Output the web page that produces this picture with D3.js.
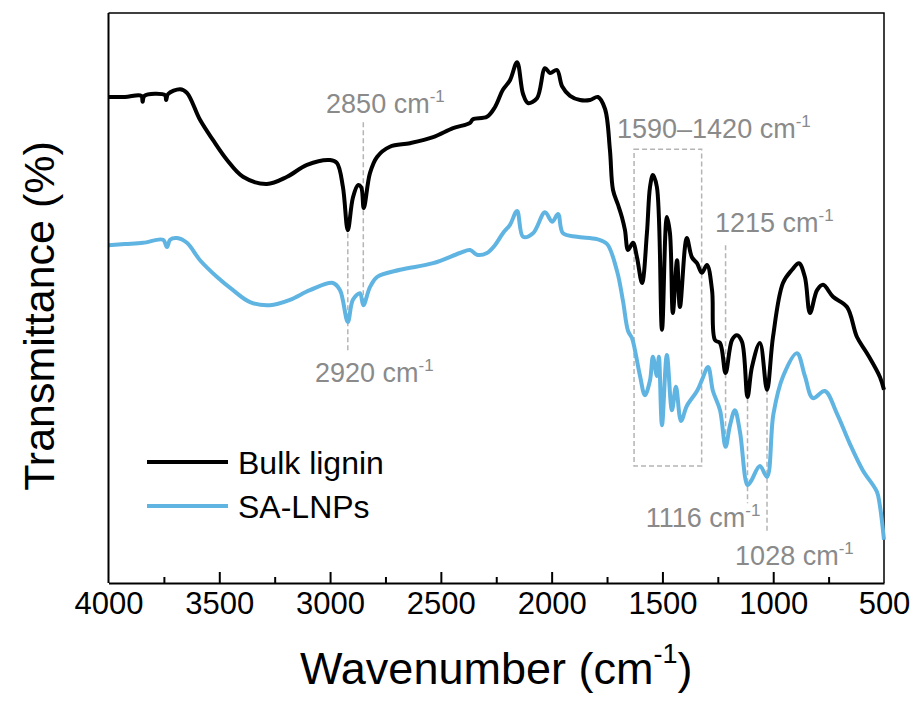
<!DOCTYPE html>
<html>
<head>
<meta charset="utf-8">
<script src="https://cdn.jsdelivr.net/npm/d3@7"></script>
<style>
  body { margin: 0; background: #fff; }
  text { font-family: "Liberation Sans", Arial, sans-serif; }
</style>
</head>
<body>
<script>
// FTIR spectra: [wavenumber (cm-1), transmittance (a.u.)]
var bulkLignin = [
  [4000, 81.0], [3926, 81.0], [3852, 81.2], [3846, 80.2], [3838, 81.2], [3745, 81.3],
  [3740, 80.5], [3731, 81.5], [3677, 82.3], [3646, 81.7], [3587, 77.2], [3528, 73.8],
  [3465, 70.5], [3393, 67.7], [3285, 66.5], [3194, 67.7], [3104, 69.7], [3000, 70.5],
  [2969, 70.0], [2942, 66.0], [2920, 58.8], [2897, 64.2], [2874, 66.3], [2860, 66.0],
  [2848, 62.5], [2820, 68.3], [2788, 71.0], [2730, 72.7], [2639, 73.3], [2535, 74.3],
  [2445, 75.8], [2368, 76.7], [2355, 77.3], [2292, 77.7], [2256, 79.3], [2220, 82.2],
  [2188, 83.8], [2156, 86.8], [2129, 81.5], [2107, 80.0], [2066, 80.8], [2030, 85.8],
  [2007, 85.0], [1976, 85.5], [1953, 82.8], [1917, 81.2], [1872, 80.5], [1827, 80.5],
  [1791, 81.0], [1759, 79.0], [1737, 72.2], [1723, 65.5], [1700, 63.0], [1683, 61.0],
  [1669, 58.8], [1655, 55.5], [1633, 56.7], [1615, 54.3], [1592, 50.0], [1570, 58.3],
  [1556, 66.0], [1543, 68.0], [1525, 66.0], [1502, 42.2], [1480, 61.0], [1466, 58.3],
  [1453, 45.0], [1434, 53.8], [1421, 46.0], [1390, 57.5], [1367, 54.3], [1344, 53.3],
  [1322, 51.7], [1299, 53.0], [1276, 48.8], [1263, 40.5], [1240, 40.0], [1215, 35.0],
  [1186, 40.5], [1164, 41.3], [1141, 40.2], [1116, 31.0], [1096, 36.0], [1060, 40.0],
  [1028, 32.2], [1001, 41.0], [956, 50.0], [915, 52.2], [884, 53.3], [857, 51.0],
  [834, 45.0], [802, 48.8], [775, 49.7], [730, 47.7], [667, 46.0], [622, 41.0],
  [577, 38.3], [518, 34.3], [500, 32.2]
];

var saLNPs = [
  [4000, 56.3], [3926, 56.5], [3844, 56.7], [3754, 57.2], [3736, 56.0], [3722, 57.2],
  [3691, 57.5], [3646, 56.7], [3587, 53.8], [3510, 51.0], [3438, 48.8], [3361, 46.8],
  [3271, 46.3], [3181, 47.2], [3091, 48.8], [2987, 50.0], [2955, 48.8], [2920, 43.5],
  [2897, 47.2], [2865, 48.3], [2850, 46.3], [2820, 49.3], [2788, 51.0], [2684, 52.2],
  [2535, 53.3], [2414, 55.0], [2368, 55.5], [2337, 54.7], [2292, 55.0], [2256, 56.3],
  [2220, 58.3], [2188, 59.7], [2156, 62.0], [2129, 57.7], [2084, 58.3], [2030, 61.8],
  [1998, 60.2], [1971, 61.5], [1949, 58.3], [1886, 57.7], [1795, 57.3], [1750, 56.5],
  [1705, 52.0], [1678, 47.0], [1655, 42.0], [1637, 40.8], [1624, 38.8], [1601, 34.5],
  [1579, 31.3], [1556, 33.8], [1543, 37.7], [1525, 34.5], [1516, 37.7], [1502, 26.3],
  [1480, 38.0], [1457, 28.8], [1439, 32.7], [1416, 27.0], [1390, 29.5], [1344, 32.0],
  [1322, 33.8], [1294, 36.0], [1272, 32.0], [1240, 28.8], [1215, 22.7], [1195, 26.3],
  [1173, 28.8], [1150, 25.2], [1116, 16.3], [1100, 17.0], [1060, 19.5], [1028, 17.7],
  [999, 28.2], [955, 34.5], [893, 38.3], [857, 34.5], [821, 30.8], [767, 32.0],
  [712, 28.2], [654, 23.2], [596, 18.8], [532, 15.2], [519, 13.0], [500, 7.2]
];

var seriesNames = ["Bulk lignin", "SA-LNPs"];
var seriesColors = ["#000000", "#5fb4e2"];

var xTicks = [4000, 3500, 3000, 2500, 2000, 1500, 1000, 500];
var xMinorTicks = [3750, 3250, 2750, 2250, 1750, 1250, 750];

// marked bands: wavenumber, top and bottom of the dashed guide (a.u.)
var peakLines = [
  { wn: 2920, top: 58.3, bottom: 38.8 },
  { wn: 2850, top: 76.8, bottom: 46.3 },
  { wn: 1215, top: 56.3, bottom: 23.5 },
  { wn: 1116, top: 30.8, bottom: 13.3 },
  { wn: 1028, top: 32.2, bottom: 8.2 }
];
var peakLabels = [
  { text: "2850 cm", wn: 3018, t: 78.3 },
  { text: "2920 cm", wn: 3068, t: 33.5 },
  { text: "1590\u20131420 cm", wn: 1705, t: 74.2 },
  { text: "1215 cm", wn: 1263, t: 58.5 },
  { text: "1116 cm", wn: 1575, t: 9.3 },
  { text: "1028 cm", wn: 1172, t: 3.0 }
];
var bandBox = { wnFrom: 1628, wnTo: 1323, top: 72.3, bottom: 19.5 };

var width = 914, height = 707;
var margin = { top: 13, right: 30, bottom: 124, left: 108.5 };

var svg = d3.select("body")
    .append("svg")
    .attr("width", width)
    .attr("height", height);

var x = d3.scaleLinear()
    .domain([4000, 500])
    .range([margin.left, width - margin.right]);

var y = d3.scaleLinear()
    .domain([0, 95])
    .range([height - margin.bottom, margin.top]);

var gray = "#8a8a8a";

// frame top / right
svg.append("path")
    .attr("d", "M" + x(4000) + "," + y(95) + "H" + x(500) + "V" + y(0))
    .attr("fill", "none")
    .attr("stroke", "#000")
    .attr("stroke-width", 1.5);

// dashed guides
svg.append("g")
    .selectAll("line")
    .data(peakLines)
    .enter()
    .append("line")
    .attr("x1", function (d) { return x(d.wn); })
    .attr("x2", function (d) { return x(d.wn); })
    .attr("y1", function (d) { return y(d.top); })
    .attr("y2", function (d) { return y(d.bottom); })
    .attr("stroke", "#b4b4b4")
    .attr("stroke-width", 1.5)
    .attr("stroke-dasharray", "5,3");

svg.append("rect")
    .attr("x", x(bandBox.wnFrom))
    .attr("y", y(bandBox.top))
    .attr("width", x(bandBox.wnTo) - x(bandBox.wnFrom))
    .attr("height", y(bandBox.bottom) - y(bandBox.top))
    .attr("fill", "none")
    .attr("stroke", "#b4b4b4")
    .attr("stroke-width", 1.5)
    .attr("stroke-dasharray", "5,3");

// spectra
var line = d3.line()
    .x(function (d) { return x(d[0]); })
    .y(function (d) { return y(d[1]); })
    .curve(d3.curveCatmullRom.alpha(0.5));

[bulkLignin, saLNPs].forEach(function (data, i) {
    svg.append("path")
        .datum(data)
        .attr("fill", "none")
        .attr("stroke", seriesColors[i])
        .attr("stroke-width", 4)
        .attr("stroke-linejoin", "round")
        .attr("d", line);
});

// peak labels
var labels = svg.append("g")
    .selectAll("text")
    .data(peakLabels)
    .enter()
    .append("text")
    .attr("x", function (d) { return x(d.wn); })
    .attr("y", function (d) { return y(d.t); })
    .attr("fill", gray)
    .style("font-size", "27px");
labels.append("tspan").text(function (d) { return d.text; });
labels.append("tspan")
    .attr("dy", -11)
    .style("font-size", "17px")
    .text("-1");

// x axis
svg.append("g")
    .attr("transform", "translate(0," + y(0) + ")")
    .call(d3.axisBottom(x)
        .tickValues(xMinorTicks)
        .tickSize(-6)
        .tickFormat(""))
    .call(function (g) { g.select(".domain").remove(); })
    .selectAll("line")
    .attr("stroke-width", 2);

var xAxis = svg.append("g")
    .attr("transform", "translate(0," + y(0) + ")")
    .call(d3.axisBottom(x)
        .tickValues(xTicks)
        .tickFormat(d3.format("d"))
        .tickSizeInner(-11)
        .tickSizeOuter(0)
        .tickPadding(9));
xAxis.select(".domain").attr("stroke-width", 2);
xAxis.selectAll(".tick line").attr("stroke-width", 2);
xAxis.selectAll(".tick text")
    .style("font-size", "31px")
    .style("font-family", "'Liberation Sans', Arial, sans-serif")
    .attr("fill", "#000");
xAxis.selectAll(".tick").filter(function (d) { return d === 4000 || d === 500; })
    .select("line").remove();

// y axis (no ticks)
svg.append("line")
    .attr("x1", x(4000)).attr("x2", x(4000))
    .attr("y1", y(95)).attr("y2", y(0))
    .attr("stroke", "#000")
    .attr("stroke-width", 2);

// axis titles
var xTitle = svg.append("text")
    .attr("x", (x(4000) + x(500)) / 2)
    .attr("y", 684)
    .attr("text-anchor", "middle")
    .style("font-size", "45px");
xTitle.append("tspan").text("Wavenumber (cm");
xTitle.append("tspan").attr("dy", -21).style("font-size", "27px").text("-1");
xTitle.append("tspan").attr("dy", 21).text(")");

svg.append("text")
    .attr("transform", "translate(54," + 316 + ") rotate(-90)")
    .attr("text-anchor", "middle")
    .style("font-size", "43px")
    .text("Transmittance (%)");

// legend
var legend = svg.append("g")
    .selectAll("g")
    .data(seriesNames)
    .enter()
    .append("g")
    .attr("transform", function (d, i) { return "translate(147," + (462 + i * 44) + ")"; });
legend.append("line")
    .attr("x1", 0).attr("x2", 81)
    .attr("stroke", function (d, i) { return seriesColors[i]; })
    .attr("stroke-width", 4);
legend.append("text")
    .attr("x", 91)
    .attr("y", 12)
    .style("font-size", "32px")
    .text(function (d) { return d; });
</script>
</body>
</html>
